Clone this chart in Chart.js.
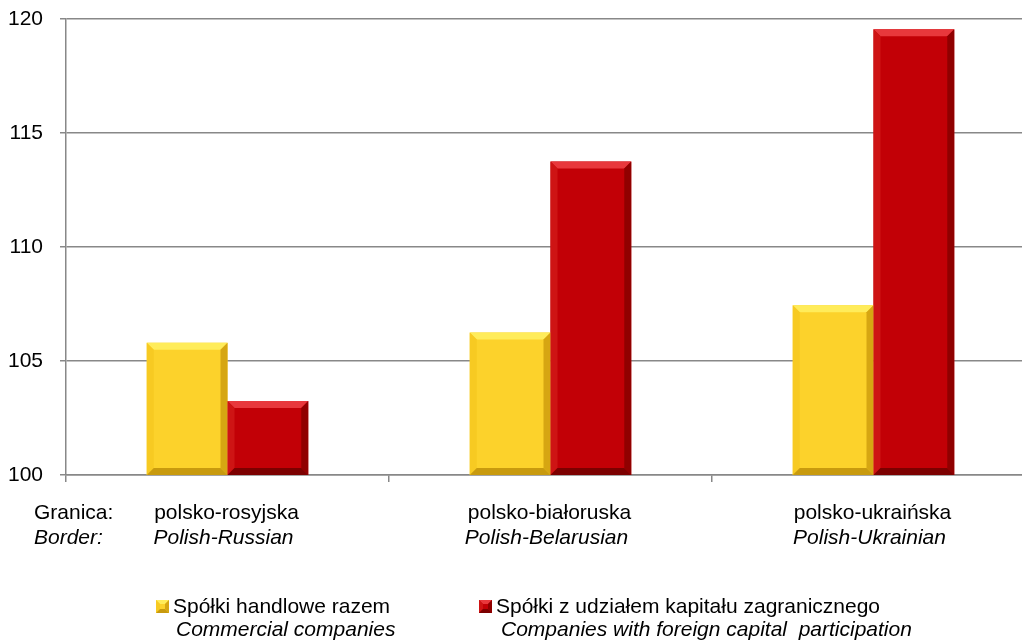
<!DOCTYPE html>
<html><head><meta charset="utf-8">
<script src="https://cdn.jsdelivr.net/npm/chart.js@4/dist/chart.umd.min.js"></script>
<style>html,body{margin:0;padding:0;background:#fff;overflow:hidden;width:1022px;height:642px}</style>
</head><body>
<canvas id="c" width="1036" height="642" style="display:block"></canvas>
<script>
const categories = ['polsko-rosyjska', 'polsko-białoruska', 'polsko-ukraińska'];
const categoriesEn = ['Polish-Russian', 'Polish-Belarusian', 'Polish-Ukrainian'];
const axisCaption = ['Granica:', 'Border:'];
const seriesNames = ['Spółki handlowe razem', 'Spółki z udziałem kapitału zagranicznego'];
const seriesNamesEn = ['Commercial companies', 'Companies with foreign capital  participation'];
const commercial = [105.8, 106.25, 107.45];
const foreignCap = [103.25, 113.75, 119.55];
const yMin = 100, yMax = 120, yStep = 5;

const FONT = "'Liberation Sans', Arial, sans-serif";
const FS = 21;
const GRID = '#888888';
const pal = [
  {fill:'#FCD22B', top:'#FFEC5A', left:'#F7CA22', right:'#D6A612', bottom:'#C89A0E'},
  {fill:'#C20006', top:'#E8383C', left:'#CE1414', right:'#900000', bottom:'#7C0000'}
];

function poly(ctx, pts, color){
  ctx.beginPath(); ctx.moveTo(pts[0][0], pts[0][1]);
  for (let i=1;i<pts.length;i++) ctx.lineTo(pts[i][0], pts[i][1]);
  ctx.closePath(); ctx.fillStyle = color; ctx.fill();
}
function bevelRect(ctx, l, t, r, b, p, dMax){
  const d = Math.min(dMax, (b-t)/2, (r-l)/2);
  poly(ctx, [[l,t],[r,t],[r-d,t+d],[l+d,t+d]], p.top);
  poly(ctx, [[l,t],[l+d,t+d],[l+d,b-d],[l,b]], p.left);
  poly(ctx, [[r,t],[r,b],[r-d,b-d],[r-d,t+d]], p.right);
  poly(ctx, [[l,b],[l+d,b-d],[r-d,b-d],[r,b]], p.bottom);
}

const bevel = {
  id: 'bevel',
  afterDatasetsDraw(chart){
    const ctx = chart.ctx, ca = chart.chartArea;
    chart.data.datasets.forEach((ds, di) => {
      const meta = chart.getDatasetMeta(di);
      meta.data.forEach(bar => {
        const {x, y, base, width} = bar.getProps(['x','y','base','width'], true);
        const l = x - width/2, r = x + width/2;
        const t = Math.max(Math.min(y, base), ca.top);
        const b = Math.min(Math.max(y, base), ca.bottom);
        ctx.save();
        bevelRect(ctx, l, t, r, b, pal[di], 7);
        ctx.restore();
      });
    });
  }
};

const labels = {
  id: 'labels',
  afterDraw(chart){
    const ctx = chart.ctx, xs = chart.scales.x;
    const r1 = 513, r2 = 538;
    ctx.save();
    ctx.fillStyle = '#000'; ctx.textBaseline = 'middle';
    ctx.textAlign = 'left';
    ctx.font = `${FS}px ${FONT}`; ctx.fillText(axisCaption[0], 34, r1);
    ctx.font = `italic ${FS}px ${FONT}`; ctx.fillText(axisCaption[1], 34, r2);
    ctx.textAlign = 'center';
    categories.forEach((c, i) => {
      const px = xs.getPixelForValue(i);
      ctx.font = `${FS}px ${FONT}`; ctx.fillText(c, px - 1, r1);
      ctx.font = `italic ${FS}px ${FONT}`; ctx.fillText(categoriesEn[i], px - 4, r2);
    });
    // legend
    const items = [{sq:156, tx:173, tx2:176}, {sq:479, tx:496, tx2:501}];
    const l1 = 607, l2 = 630;
    ctx.textAlign = 'left';
    chart.data.datasets.forEach((ds, i) => {
      const it = items[i];
      ctx.fillStyle = pal[i].fill; ctx.fillRect(it.sq, l1-7, 13, 13);
      bevelRect(ctx, it.sq, l1-7, it.sq+13, l1+6, pal[i], 4);
      ctx.fillStyle = '#000';
      ctx.font = `${FS}px ${FONT}`; ctx.fillText(seriesNames[i], it.tx, l1);
      ctx.font = `italic ${FS}px ${FONT}`; ctx.fillText(seriesNamesEn[i], it.tx2, l2);
    });
    ctx.restore();
  }
};

new Chart(document.getElementById('c'), {
  type: 'bar',
  data: {
    labels: categories,
    datasets: [
      {label: seriesNames[0], data: commercial, backgroundColor: pal[0].fill, borderWidth: 0},
      {label: seriesNames[1], data: foreignCap, backgroundColor: pal[1].fill, borderWidth: 0}
    ]
  },
  options: {
    responsive: false,
    animation: false,
    layout: {padding: {top: 19, bottom: 160, left: 0, right: 1}},
    datasets: {bar: {categoryPercentage: 0.5, barPercentage: 1.0}},
    plugins: {legend: {display: false}, tooltip: {enabled: false}},
    scales: {
      x: {
        ticks: {display: false},
        grid: {offset: true, drawOnChartArea: false, drawTicks: true, tickLength: 7, color: GRID, lineWidth: 1.5},
        border: {color: GRID, width: 1.5}
      },
      y: {
        min: yMin, max: yMax,
        ticks: {stepSize: yStep, color: '#000', font: {family: FONT, size: FS}, padding: 17},
        grid: {color: GRID, lineWidth: 1.5, tickLength: 6},
        border: {color: GRID, width: 1.5},
        afterFit(scale){ scale.width = 66; scale.paddingTop = 0; }
      }
    }
  },
  plugins: [bevel, labels]
});
</script>
</body></html>
